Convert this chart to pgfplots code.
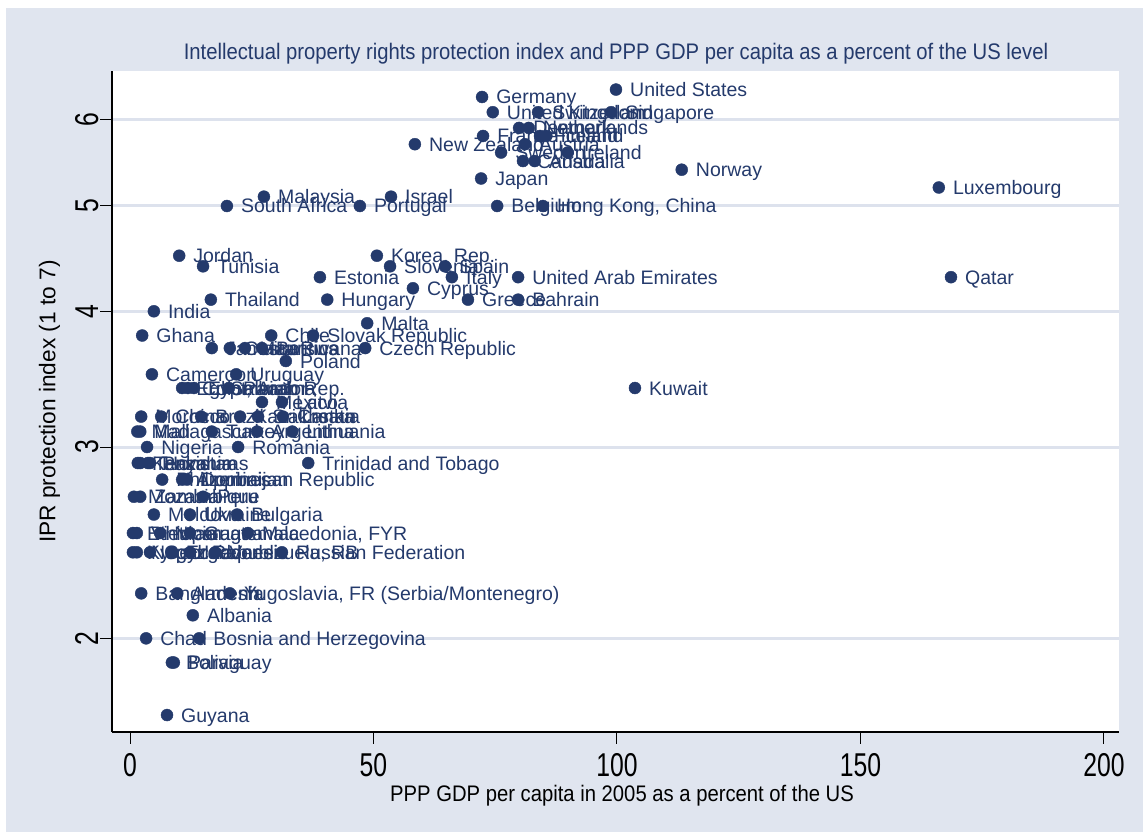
\documentclass[border=0pt]{standalone}
\usepackage{fontspec}
\setmainfont{Liberation Sans}
\newfontfamily\tickfont[FakeStretch=0.75]{Liberation Sans}
\newfontfamily\narrowfont[FakeStretch=0.9]{Liberation Sans}
\usepackage{pgfplots}
\usepackage{pgfplotstable}
\pgfplotsset{compat=1.18}
\definecolor{bgc}{RGB}{224,229,239}
\definecolor{gridc}{RGB}{221,226,237}
\definecolor{navy}{RGB}{36,58,108}

\pgfplotstableread[col sep=semicolon,row sep=\\]{
x;y;name\\
99.8;6.4;United States\\
72.3;6.3;Germany\\
74.5;6.1;United Kingdom\\
83.8;6.1;Switzerland\\
98.8;6.1;Singapore\\
79.9;5.9;Denmark\\
81.9;5.9;Netherlands\\
72.5;5.8;France\\
84.2;5.8;Finland\\
85.5;5.8;Iceland\\
58.5;5.7;New Zealand\\
81.1;5.7;Austria\\
76.2;5.6;Sweden\\
89.9;5.6;Ireland\\
80.7;5.5;Canada\\
83.1;5.5;Australia\\
72.1;5.3;Japan\\
113.3;5.4;Norway\\
166.1;5.2;Luxembourg\\
75.4;5.0;Belgium\\
84.8;5.0;Hong Kong, China\\
27.5;5.1;Malaysia\\
53.6;5.1;Israel\\
19.9;5.0;South Africa\\
47.2;5.0;Portugal\\
10.1;4.5;Jordan\\
15.0;4.4;Tunisia\\
50.7;4.5;Korea, Rep.\\
53.4;4.4;Slovenia\\
64.7;4.4;Spain\\
66.1;4.3;Italy\\
39.0;4.3;Estonia\\
79.7;4.3;United Arab Emirates\\
58.1;4.2;Cyprus\\
168.6;4.3;Qatar\\
16.6;4.1;Thailand\\
40.5;4.1;Hungary\\
69.4;4.1;Greece\\
79.7;4.1;Bahrain\\
4.9;4.0;India\\
48.7;3.9;Malta\\
2.5;3.8;Ghana\\
29.0;3.8;Chile\\
37.6;3.8;Slovak Republic\\
48.3;3.7;Czech Republic\\
16.8;3.7;Jamaica\\
20.5;3.7;Costa Rica\\
23.6;3.7;Mauritius\\
27.1;3.7;Botswana\\
32.0;3.6;Poland\\
4.5;3.5;Cameroon\\
21.8;3.5;Uruguay\\
103.7;3.4;Kuwait\\
10.7;3.4;Egypt, Arab Rep.\\
11.9;3.4;Colombia\\
13.1;3.4;El Salvador\\
20.3;3.4;Panama\\
27.1;3.3;Mexico\\
31.2;3.3;Latvia\\
2.3;3.2;Morocco\\
6.4;3.2;China\\
14.6;3.2;Brazil\\
22.6;3.2;Kazakhstan\\
26.3;3.2;Sri Lanka\\
31.4;3.2;Croatia\\
1.5;3.1;Madagascar\\
2.1;3.1;Mali\\
16.8;3.1;Turkey\\
26.1;3.1;Argentina\\
33.3;3.1;Lithuania\\
3.5;3.0;Nigeria\\
22.2;3.0;Romania\\
1.6;2.9;Kenya\\
2.1;2.9;Tanzania\\
3.7;2.9;Pakistan\\
4.1;2.9;Honduras\\
36.6;2.9;Trinidad and Tobago\\
6.6;2.8;Philippines\\
10.7;2.8;Azerbaijan\\
11.7;2.8;Dominican Republic\\
0.8;2.7;Mozambique\\
2.1;2.7;Zambia\\
15.0;2.7;Peru\\
4.9;2.6;Moldova\\
12.3;2.6;Ukraine\\
22.0;2.6;Bulgaria\\
0.6;2.5;Ethiopia\\
1.4;2.5;Vietnam\\
6.2;2.5;Nicaragua\\
12.3;2.5;Guatemala\\
24.2;2.5;Macedonia, FYR\\
0.6;2.4;Kyrgyz Republic\\
1.4;2.4;Nepal\\
4.1;2.4;Georgia\\
8.6;2.4;Ecuador\\
12.3;2.4;Indonesia\\
17.5;2.4;Venezuela, RB\\
31.2;2.4;Russian Federation\\
2.3;2.2;Bangladesh\\
9.7;2.2;Armenia\\
20.5;2.2;Yugoslavia, FR (Serbia/Montenegro)\\
12.9;2.1;Albania\\
3.3;2.0;Chad\\
14.2;2.0;Bosnia and Herzegovina\\
8.6;1.9;Bolivia\\
9.0;1.9;Paraguay\\
7.6;1.7;Guyana\\
}\ipr

\begin{document}
\begin{tikzpicture}
\fill[white] (0,0) rectangle (1143pt,832pt);
\fill[bgc] (6pt,0) rectangle (1143pt,824pt);
\begin{axis}[
  at={(112pt,100pt)}, anchor=south west, scale only axis,
  width=1007pt, height=661pt,
  xmin=-3.7, xmax=203.1, ymode=log, ymin=1.64, ymax=6.657,
  axis background/.style={fill=white},
  axis x line*=bottom, axis y line*=left,
  axis line style={black, line width=1.2pt},
  xtick={0,50,100,150,200},
  ytick={2,3,4,5,6}, yticklabels={2,3,4,5,6},
  tick align=outside, major tick length=12pt,
  tick style={black, line width=1pt},
  ymajorgrids, grid style={gridc, line width=3pt},
  /pgf/number format/assume math mode=true,
  ticklabel style={font=\tickfont\fontsize{33}{33}\selectfont, text=black},
  xticklabel style={anchor=base, inner sep=0pt, yshift=-33pt},
  yticklabel style={xshift=-2pt, rotate=90, anchor=base, inner sep=0pt},
  title={Intellectual property rights protection index and PPP GDP per capita as a percent of the US level},
  title style={at={(axis description cs:0.5005,1.0166)}, anchor=center, inner sep=0pt,
    font=\narrowfont\fontsize{22.5}{24}\selectfont, text=navy},
  xlabel={PPP GDP per capita in 2005 as a percent of the US},
  xlabel style={at={(axis description cs:0.5065,-0.0968)}, anchor=center, inner sep=0pt,
    font=\narrowfont\fontsize{22.5}{24}\selectfont, text=black},
  ylabel={IPR protection index (1 to 7)},
  ylabel style={at={(axis description cs:-0.062,0.5)}, anchor=center, rotate=0, inner sep=0pt,
    font=\fontsize{22.7}{24}\selectfont, text=black},
  clip=false,
]
\addplot[only marks, mark=*, mark size=6pt, color=navy,
  nodes near coords, point meta=explicit symbolic,
  every node near coord/.append style={anchor=base west, inner sep=0pt,
    xshift=14pt, yshift=-7pt, font=\fontsize{19.5}{20}\selectfont, text=navy}]
  table[x=x, y=y, meta=name] {\ipr};
\end{axis}
\end{tikzpicture}
\end{document}
